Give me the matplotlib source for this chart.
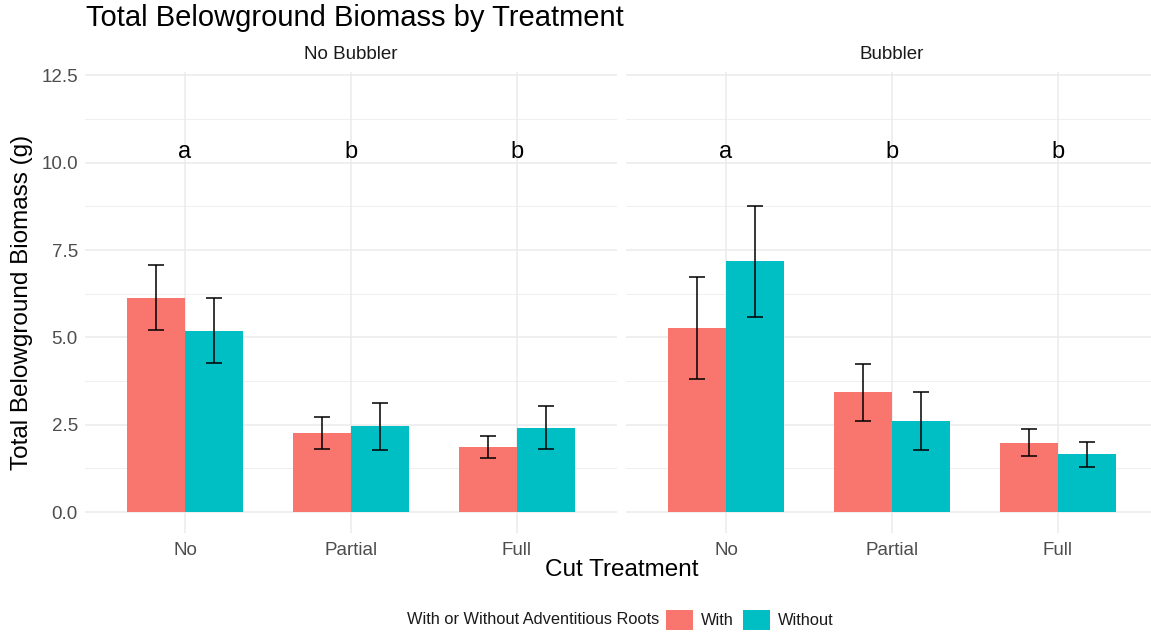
import numpy as np
import matplotlib
matplotlib.use("Agg")
import matplotlib.pyplot as plt

plt.rcParams["font.family"] = ["Liberation Sans", "DejaVu Sans"]

# data (mean +/- error)
cuts = ["No", "Partial", "Full"]
panels = ["No Bubbler", "Bubbler"]
groups = ["With", "Without"]
letters = ["a", "b", "b"]

nobub_with = [6.14, 2.27, 1.86]
nobub_with_se = [0.94, 0.46, 0.32]
nobub_without = [5.19, 2.45, 2.42]
nobub_without_se = [0.93, 0.67, 0.62]

bub_with = [5.27, 3.43, 1.99]
bub_with_se = [1.47, 0.82, 0.38]
bub_without = [7.18, 2.60, 1.65]
bub_without_se = [1.59, 0.83, 0.35]

COL = {"With": "#F8766D", "Without": "#00BFC4"}
GRID = "#EBEBEB"
W = 1151; H = 634

fig = plt.figure(figsize=(W/100, H/100), dpi=100)
ax_l = fig.add_axes([85.4/W, (H-533)/H, 531.2/W, 461/H])
ax_r = fig.add_axes([626.4/W, (H-533)/H, 531.2/W, 461/H])

vals = {0: {"With": (nobub_with, nobub_with_se), "Without": (nobub_without, nobub_without_se)},
        1: {"With": (bub_with, bub_with_se), "Without": (bub_without, bub_without_se)}}

x = np.arange(1, len(cuts) + 1)
bw = 0.35
handles = []
for i, ax in enumerate([ax_l, ax_r]):
    ax.set_xlim(0.4, 3.6); ax.set_ylim(-0.6, 12.6)
    for sp in ax.spines.values():
        sp.set_visible(False)
    ax.set_yticks(np.arange(0, 12.6, 2.5))
    ax.set_yticks(np.arange(1.25, 12.6, 2.5), minor=True)
    ax.set_xticks(x)
    ax.set_xticklabels(cuts)
    ax.grid(which="major", color=GRID, lw=1.1)
    ax.grid(which="minor", axis="y", color=GRID, lw=0.55)
    ax.set_axisbelow(True)
    ax.tick_params(which="both", length=0, labelsize=13.5, labelcolor="#4D4D4D", pad=5.5)
    ax.tick_params(axis="x", pad=6.5)
    if i == 1:
        ax.set_yticklabels([])
    else:
        ax.set_yticklabels([f"{v:.1f}" for v in np.arange(0, 12.6, 2.5)])
    for j, g in enumerate(groups):
        m, se = vals[i][g]
        xs = x + (j - 0.5) * bw
        b = ax.bar(xs, m, width=bw, color=COL[g], label=g)
        ax.errorbar(xs, m, yerr=se, fmt="none", ecolor="black", elinewidth=1.1,
                    capsize=5.8, capthick=1.1)
        if i == 0:
            handles.append(b)
    for xi, lab in zip(x, letters):
        ax.text(xi, 10.15, lab, ha="center", va="baseline", fontsize=17, color="black")
    ax.text(0.5, 1.02, panels[i], transform=ax.transAxes, ha="center", va="bottom",
            fontsize=13.5, color="#1A1A1A")

fig.text(86/W, 1 - 18/H, "Total Belowground Biomass by Treatment", fontsize=21,
         ha="left", va="center", color="black")
fig.text(622/W, 1 - 570/H, "Cut Treatment", fontsize=17.5, ha="center", va="center")
fig.text(22/W, 1 - 302/H, "Total Belowground Biomass (g)", fontsize=17.5, ha="center",
         va="center", rotation=90)

fig.text(407/W, 1 - 620/H, "With or Without Adventitious Roots", fontsize=11.8,
         ha="left", va="center", color="#1A1A1A")
leg = fig.legend(handles, groups, loc="center left", bbox_to_anchor=(663/W, 1 - 620/H),
                 ncol=2, frameon=False, fontsize=11.8, handlelength=1.6, handleheight=1.5,
                 handletextpad=0.5, columnspacing=0.6, borderpad=0.2, borderaxespad=0)
for t in leg.get_texts():
    t.set_color("#1A1A1A")

fig.savefig("out.png", dpi=100)
